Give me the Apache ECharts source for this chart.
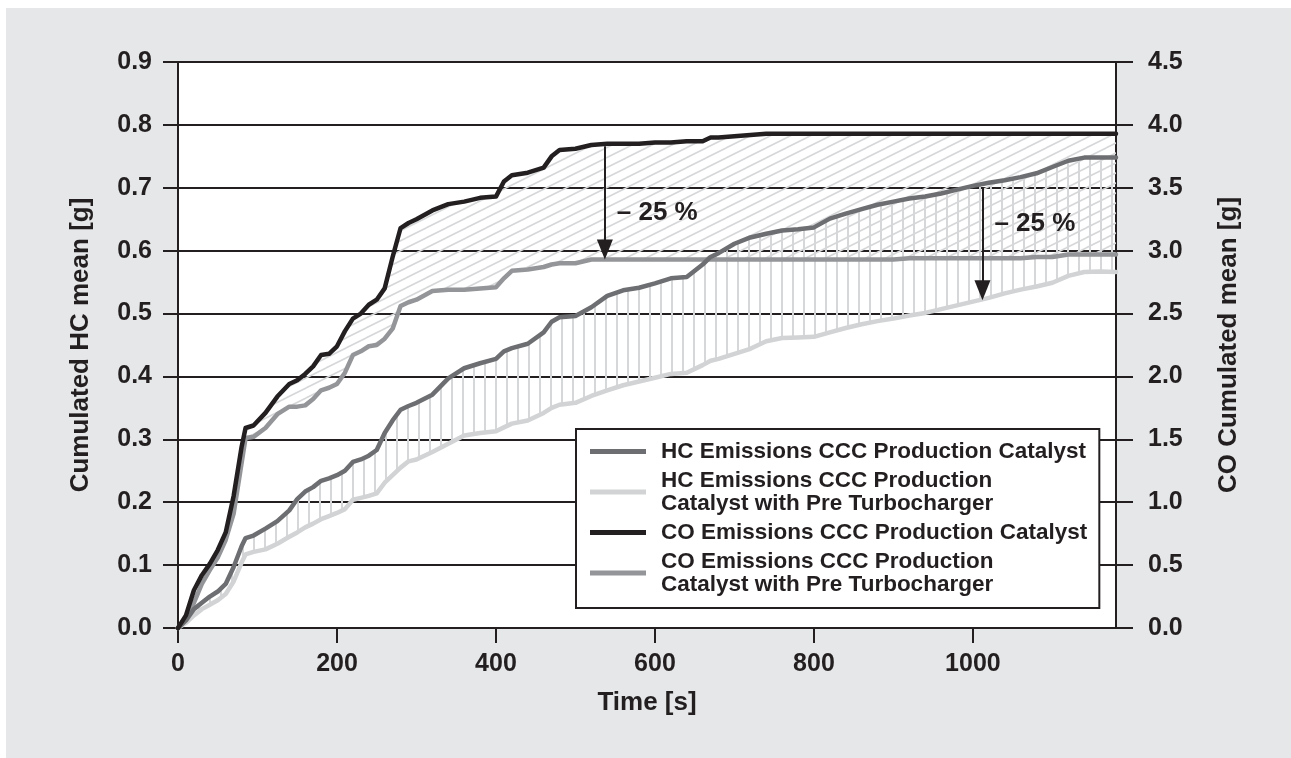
<!DOCTYPE html>
<html>
<head>
<meta charset="utf-8">
<script src="https://cdn.jsdelivr.net/npm/echarts@6/dist/echarts.min.js"></script>
<style>
html,body{margin:0;padding:0;background:#ffffff;}
#chart{position:absolute;left:6px;top:8px;width:1285px;height:750px;background:#e6e7e8;}
</style>
</head>
<body>
<div id="chart"></div>
<script>
// ---------------- data ----------------
const time = [0,10,20,30,40,50,60,70,80,85,95,110,125,140,150,160,170,180,190,200,
  210,220,230,240,250,260,270,280,290,300,320,340,360,380,400,410,420,440,460,470,480,
  500,520,540,560,580,600,620,640,660,670,680,700,720,740,760,780,800,820,840,860,880,900,
  920,940,960,980,1000,1020,1040,1060,1080,1100,1120,1140,1160,1180];

const coProduction = [0,0.10,0.30,0.42,0.51,0.62,0.76,1.05,1.44,1.59,1.61,1.71,1.84,1.94,1.97,2.02,2.08,2.17,2.18,2.24,
  2.36,2.46,2.50,2.57,2.61,2.70,2.95,3.18,3.22,3.25,3.32,3.37,3.39,3.42,3.43,3.55,3.60,3.62,3.66,3.75,3.80,
  3.81,3.84,3.85,3.85,3.85,3.86,3.86,3.87,3.87,3.90,3.90,3.91,3.92,3.93,3.93,3.93,3.93,3.93,3.93,3.93,3.93,3.93,
  3.93,3.93,3.93,3.93,3.93,3.93,3.93,3.93,3.93,3.93,3.93,3.93,3.93,3.93];

const coPreTurbo = [0,0.08,0.20,0.35,0.46,0.56,0.70,0.91,1.31,1.51,1.52,1.59,1.70,1.76,1.76,1.77,1.82,1.89,1.91,1.94,
  2.03,2.17,2.20,2.24,2.25,2.30,2.38,2.56,2.59,2.61,2.68,2.69,2.69,2.70,2.71,2.78,2.84,2.85,2.87,2.89,2.90,
  2.90,2.93,2.93,2.93,2.93,2.93,2.93,2.93,2.93,2.93,2.93,2.93,2.93,2.93,2.93,2.93,2.93,2.93,2.93,2.93,2.93,2.93,
  2.94,2.94,2.94,2.94,2.94,2.94,2.94,2.94,2.95,2.95,2.97,2.97,2.97,2.97];

const hcProduction = [0,0.012,0.030,0.040,0.050,0.058,0.070,0.097,0.130,0.143,0.147,0.158,0.170,0.187,0.205,0.217,0.224,0.234,0.238,0.243,
  0.250,0.264,0.268,0.274,0.283,0.310,0.330,0.347,0.353,0.358,0.371,0.397,0.413,0.421,0.428,0.440,0.445,0.452,0.470,0.487,0.494,
  0.496,0.510,0.528,0.537,0.541,0.548,0.556,0.558,0.578,0.590,0.596,0.611,0.621,0.627,0.632,0.634,0.637,0.651,0.659,0.666,0.673,0.678,
  0.683,0.686,0.691,0.697,0.703,0.708,0.712,0.717,0.723,0.733,0.743,0.748,0.748,0.748];

const hcPreTurbo = [0,0.008,0.020,0.030,0.037,0.044,0.054,0.074,0.104,0.117,0.121,0.125,0.134,0.145,0.152,0.160,0.166,0.173,0.178,0.183,
  0.189,0.204,0.207,0.210,0.214,0.231,0.243,0.255,0.265,0.268,0.280,0.293,0.306,0.310,0.313,0.319,0.325,0.330,0.342,0.350,0.355,
  0.358,0.369,0.378,0.386,0.392,0.398,0.404,0.406,0.418,0.425,0.428,0.436,0.444,0.456,0.461,0.462,0.463,0.470,0.477,0.483,0.488,0.492,
  0.497,0.501,0.507,0.513,0.519,0.525,0.532,0.538,0.543,0.549,0.560,0.566,0.567,0.566];

const seriesNames = [
  'HC Emissions CCC Production Catalyst',
  'HC Emissions CCC Production\nCatalyst with Pre Turbocharger',
  'CO Emissions CCC Production Catalyst',
  'CO Emissions CCC Production\nCatalyst with Pre Turbocharger'
];

// reduction annotations: [time, from value, to value] and label anchor [time, value]
const coArrow = [537, 3.83, 3.01];
const coArrowLabel = [552, 3.30];
const hcArrow = [1012, 0.700, 0.537];
const hcArrowLabel = [1027, 0.642];
const reductionText = '\u2013 25 %';

const axisTitles = ['Time [s]', 'Cumulated HC mean [g]', 'CO Cumulated mean [g]'];

// ---------------- styling ----------------
const FONT = '"Liberation Sans", Arial, Helvetica, sans-serif';
const INK = '#231f20';
const C_HC_PROD = '#6d6e71';
const C_HC_PRE = '#d1d3d4';
const C_CO_PROD = '#231f20';
const C_CO_PRE = '#939598';
const HATCH = '#d6d7d9';

function diagonalPattern() {
  const W = 20, H = 10;
  const c = document.createElement('canvas');
  c.width = W; c.height = H;
  const g = c.getContext('2d');
  g.strokeStyle = HATCH; g.lineWidth = 1.6;
  [[-W,0],[0,0],[W,0],[0,-H],[0,H]].forEach(([dx,dy]) => {
    g.beginPath(); g.moveTo(dx, H + dy); g.lineTo(W + dx, dy); g.stroke();
  });
  return c;
}
function verticalPattern() {
  const W = 11, H = 4;
  const c = document.createElement('canvas');
  c.width = W; c.height = H;
  const g = c.getContext('2d');
  g.fillStyle = HATCH;
  g.fillRect(5, 0, 2, H);
  return c;
}
const diagImg = diagonalPattern();
const vertImg = verticalPattern();

const pairs = ys => time.map((t, i) => [t, ys[i]]);

// band between two curves, drawn through the axis scales (api.coord)
function bandSeries(hi, lo, yAxisIndex, img) {
  return {
    type: 'custom', yAxisIndex, silent: true, z: 1,
    data: [[0, 0]],
    encode: {x: 0, y: 1},
    renderItem: function (params, api) {
      const pts = [];
      for (let i = 0; i < time.length; i++) pts.push(api.coord([time[i], hi[i]]));
      for (let i = time.length - 1; i >= 0; i--) pts.push(api.coord([time[i], lo[i]]));
      return {type: 'polygon', shape: {points: pts},
        style: {fill: {image: img, repeat: 'repeat'}, stroke: null}};
    }
  };
}

const chart = echarts.init(document.getElementById('chart'), null, {renderer: 'canvas'});

const mainLine = (name, color, data, yAxisIndex, extra) => Object.assign({
  name, type: 'line', yAxisIndex, data, symbol: 'none', z: 3,
  lineStyle: {color, width: 4.5, join: 'round', cap: 'round'},
  itemStyle: {color}, emphasis: {disabled: true}
}, extra || {});

const arrowMark = (arr) => ({
  silent: true, animation: false,
  lineStyle: {color: INK, width: 2, type: 'solid'},
  label: {show: false},
  data: [[
    {coord: [arr[0], arr[1]], symbol: 'none'},
    {coord: [arr[0], arr[2]], symbol: 'triangle', symbolSize: [16, 20]}
  ]]
});
const labelMark = anchor => ({
  silent: true, animation: false,
  symbol: 'circle', symbolSize: 0,
  label: {show: true, position: 'inside', align: 'left', verticalAlign: 'middle',
    formatter: reductionText, fontSize: 26, fontWeight: 'bold', color: INK, fontFamily: FONT},
  data: [{coord: anchor}]
});

const option = {
  animation: false,
  textStyle: {fontFamily: FONT},
  grid: {left: 172, right: 175, top: 54, bottom: 130, show: true, backgroundColor: '#ffffff', borderWidth: 0},
  legend: {
    orient: 'vertical', left: 570, top: 421,
    padding: [11, 12, 12, 14], itemGap: 6, itemWidth: 56, itemHeight: 5,
    icon: 'rect', selectedMode: false,
    backgroundColor: '#ffffff', borderColor: INK, borderWidth: 2, borderRadius: 0,
    data: seriesNames,
    textStyle: {fontSize: 22.5, fontWeight: 'bold', color: INK, lineHeight: 23, padding: [0, 0, 0, 10], fontFamily: FONT}
  },
  xAxis: {
    type: 'value', min: 0, max: 1180, interval: 200,
    name: axisTitles[0], nameLocation: 'middle', nameGap: 62,
    nameTextStyle: {fontSize: 26, fontWeight: 'bold', color: INK},
    axisLine: {show: true, onZero: false, lineStyle: {color: INK, width: 2}},
    axisTick: {show: true, inside: false, length: 15, lineStyle: {color: INK, width: 2}},
    axisLabel: {fontSize: 25, fontWeight: 'bold', color: INK, margin: 24, showMaxLabel: false,
      formatter: v => String(v)},
    splitLine: {show: false}
  },
  yAxis: [{
    type: 'value', position: 'left', min: 0, max: 0.9, interval: 0.1,
    name: axisTitles[1], nameLocation: 'middle', nameRotate: 90, nameGap: 84,
    nameTextStyle: {fontSize: 26, fontWeight: 'bold', color: INK},
    axisLine: {show: true, lineStyle: {color: INK, width: 2}},
    axisTick: {show: true, inside: false, length: 15, lineStyle: {color: INK, width: 2}},
    axisLabel: {fontSize: 25, fontWeight: 'bold', color: INK, margin: 26, formatter: v => v.toFixed(1)},
    splitLine: {show: true, lineStyle: {color: INK, width: 2}}
  }, {
    type: 'value', position: 'right', min: 0, max: 4.5, interval: 0.5,
    name: axisTitles[2], nameLocation: 'middle', nameRotate: 90, nameGap: 100,
    nameTextStyle: {fontSize: 26, fontWeight: 'bold', color: INK},
    axisLine: {show: true, lineStyle: {color: INK, width: 2}},
    axisTick: {show: true, inside: false, length: 17, lineStyle: {color: INK, width: 2}},
    axisLabel: {fontSize: 25, fontWeight: 'bold', color: INK, margin: 32, formatter: v => v.toFixed(1)},
    splitLine: {show: false}
  }],
  series: [
    bandSeries(coProduction, coPreTurbo, 1, diagImg),
    bandSeries(hcProduction, hcPreTurbo, 0, vertImg),
    mainLine(seriesNames[1], C_HC_PRE, pairs(hcPreTurbo), 0),
    mainLine(seriesNames[3], C_CO_PRE, pairs(coPreTurbo), 1),
    mainLine(seriesNames[0], C_HC_PROD, pairs(hcProduction), 0,
      {markLine: arrowMark(hcArrow), markPoint: labelMark(hcArrowLabel)}),
    mainLine(seriesNames[2], C_CO_PROD, pairs(coProduction), 1,
      {markLine: arrowMark(coArrow), markPoint: labelMark(coArrowLabel)})
  ]
};
chart.setOption(option);
</script>
</body>
</html>
